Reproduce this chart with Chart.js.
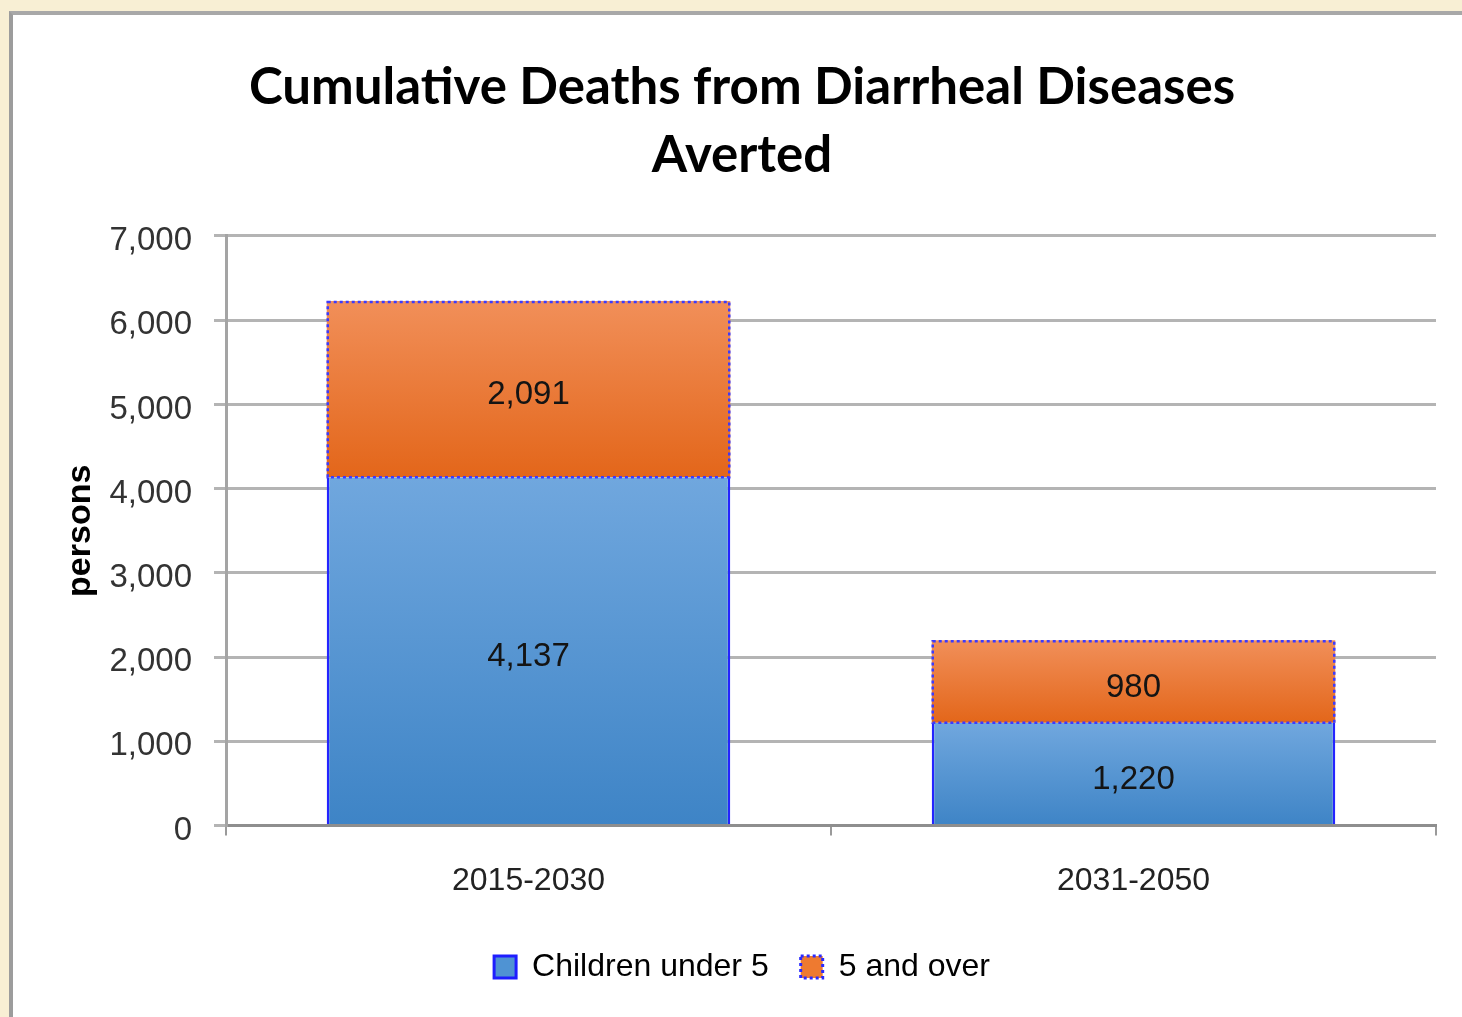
<!DOCTYPE html>
<html><head><meta charset="utf-8">
<script src="https://cdn.jsdelivr.net/npm/chart.js@4"></script>
<style>
html,body{margin:0;padding:0;width:1462px;height:1017px;overflow:hidden;background:#f8efd4;}
#panel{position:absolute;left:9px;top:11px;width:1460px;height:1010px;background:#fff;border-top:4px solid #a8a8a8;border-left:4px solid #9c9c9c;}
#wrap{position:absolute;left:0;top:0;width:1462px;height:1017px;}
</style></head><body>
<div id="panel"></div>
<div id="wrap"><canvas id="c" width="1462" height="1017"></canvas></div>
<script>
const categories = ['2015-2030', '2031-2050'];
const childrenUnder5 = [4137, 1220];
const fiveAndOver = [2091, 980];
const seriesNames = ['Children under 5', '5 and over'];
const titleLines = ['Cumulative Deaths from Diarrheal Diseases', 'Averted'];
const yAxisTitle = 'persons';
const yMin = 0, yMax = 7000, yStep = 1000;

const LABEL_FONT = 'Liberation Sans';

function barGradient(ctx, fromVals, toVals, cTop, cBot) {
  const chart = ctx.chart;
  if (!chart.chartArea || !chart.scales.y || ctx.dataIndex === undefined) return cBot;
  const i = ctx.dataIndex;
  const y = chart.scales.y;
  const top = y.getPixelForValue(toVals[i]);
  const bot = y.getPixelForValue(fromVals[i]);
  if (!isFinite(top) || !isFinite(bot) || top === bot) return cBot;
  const g = chart.ctx.createLinearGradient(0, top, 0, bot);
  g.addColorStop(0, cTop);
  g.addColorStop(1, cBot);
  return g;
}
const zeros = categories.map(() => 0);
const stackTop = childrenUnder5.map((v, i) => v + fiveAndOver[i]);

const labelPlugin = {
  id: 'valueLabels',
  afterDatasetsDraw(chart) {
    const c = chart.ctx;
    const m1 = chart.getDatasetMeta(1);
    c.save();
    c.strokeStyle = '#3a3aff';
    c.lineWidth = 2.5;
    c.setLineDash([3, 3]);
    m1.data.forEach(el => {
      const w = el.width;
      c.strokeRect(el.x - w / 2 + 1, el.y + 1, w - 2, el.base - el.y - 1);
    });
    c.restore();
    c.save();
    c.font = '33px "' + LABEL_FONT + '"';
    c.fillStyle = '#141414';
    c.textAlign = 'center';
    c.textBaseline = 'middle';
    chart.data.datasets.forEach((ds, di) => {
      const meta = chart.getDatasetMeta(di);
      meta.data.forEach((el, i) => {
        const v = ds.data[i];
        c.fillText(v.toLocaleString('en-US'), el.x, (el.y + el.base) / 2 + 6);
      });
    });
    c.restore();
  }
};

new Chart(document.getElementById('c'), {
  type: 'bar',
  data: {
    labels: categories,
    datasets: [
      {
        label: seriesNames[0],
        data: childrenUnder5,
        backgroundColor: ctx => barGradient(ctx, zeros, childrenUnder5, '#70a7de', '#3e84c6'),
        borderColor: '#2424ff',
        borderWidth: {left: 2.5, right: 2.5, top: 0, bottom: 0},
        borderSkipped: false,
        barPercentage: 0.667,
        categoryPercentage: 1
      },
      {
        label: seriesNames[1],
        data: fiveAndOver,
        backgroundColor: ctx => barGradient(ctx, childrenUnder5, stackTop, '#f18f59', '#e3661a'),
        borderWidth: 0,
        barPercentage: 0.667,
        categoryPercentage: 1
      }
    ]
  },
  options: {
    responsive: false,
    animation: false,
    devicePixelRatio: 1,
    layout: {padding: {left: 48, right: 26, top: 14, bottom: 24}},
    plugins: {
      title: {
        display: true,
        text: titleLines,
        color: '#000',
        font: {family: 'Lato', size: 51, weight: 'bold', lineHeight: 1.333},
        padding: {top: 40, bottom: 46}
      },
      legend: {
        position: 'bottom',
        labels: {
          font: {family: LABEL_FONT, size: 32},
          color: '#222',
          boxWidth: 22,
          boxHeight: 22,
          padding: 32,
          generateLabels(chart) {
            return [
              {text: seriesNames[0], fillStyle: '#4f93d3', strokeStyle: '#1e1eff', lineWidth: 3, datasetIndex: 0, hidden: false},
              {text: seriesNames[1], fillStyle: '#ee7a30', strokeStyle: '#2a2aff', lineWidth: 3, lineDash: [3, 3], datasetIndex: 1, hidden: false}
            ];
          }
        }
      },
      tooltip: {enabled: false}
    },
    scales: {
      x: {
        stacked: true,
        afterFit(s) { s.height = s.height - 7; },
        grid: {offset: true, drawOnChartArea: false, drawTicks: true, tickLength: 10, color: '#9a9a9a', lineWidth: 2},
        border: {color: '#8e8e8e', width: 3},
        ticks: {font: {family: LABEL_FONT, size: 32}, color: '#222', padding: 26}
      },
      y: {
        stacked: true,
        min: yMin, max: yMax,
        afterFit(s) { s.width = 178; },
        ticks: {
          stepSize: yStep,
          font: {family: LABEL_FONT, size: 33},
          color: '#333',
          padding: 22,
          labelOffset: 5,
          callback: v => v.toLocaleString('en-US')
        },
        grid: {color: '#b4b4b4', lineWidth: 3, tickLength: 12},
        border: {color: '#a4a4a4', width: 3},
        title: {
          display: true,
          text: yAxisTitle,
          color: '#000',
          font: {family: LABEL_FONT, size: 34, weight: 'bold'},
          padding: {top: 12, bottom: 0}
        }
      }
    }
  },
  plugins: [labelPlugin]
});
</script>
</body></html>
